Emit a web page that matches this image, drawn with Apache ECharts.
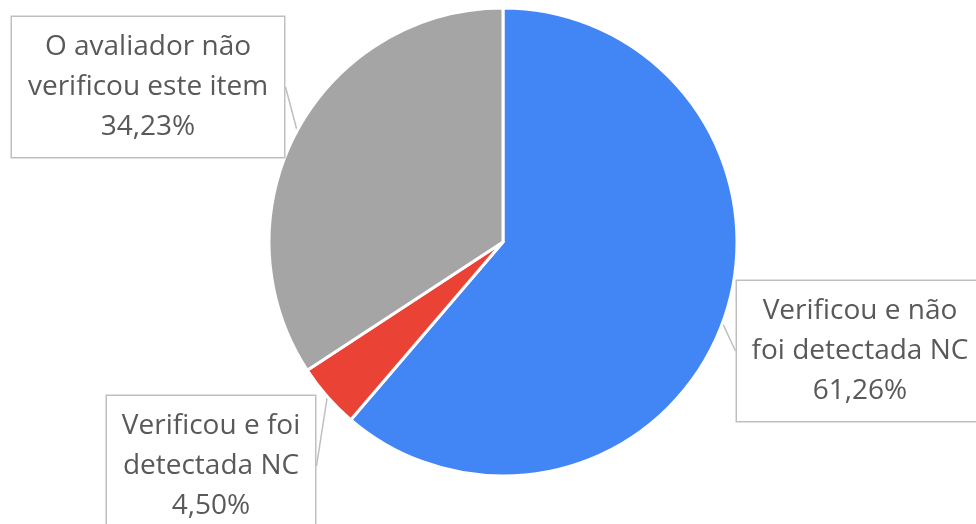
<!DOCTYPE html>
<html>
<head>
<meta charset="utf-8">
<script src="https://cdn.jsdelivr.net/npm/echarts@6/dist/echarts.min.js"></script>
<style>
  html, body { margin: 0; padding: 0; background: #fff; }
  #main { width: 976px; height: 524px; }
</style>
</head>
<body>
<div id="main"></div>
<script>
// categorias e valores (%)
var categories = ['Verificou e não\nfoi detectada NC', 'Verificou e foi\ndetectada NC', 'O avaliador não\nverificou este item'];
var values = [61.26, 4.50, 34.23];
var colors = ['#4285F4', '#EA4335', '#A5A5A5'];

// caixas dos rótulos: centro x, centro y, largura
var boxes = [
    [860, 351, 226],
    [211, 466, 188],
    [148, 87, 252]
];

var myChart = echarts.init(document.getElementById('main'));

var data = categories.map(function(name, i) {
    return {
        name: name,
        value: values[i],
        itemStyle: { color: colors[i] },
        label: { width: boxes[i][2] }
    };
});

var option = {
    animation: false,
    series: [{
        type: 'pie',
        center: [503, 242],
        radius: 234,
        startAngle: 90,
        clockwise: true,
        data: data,
        itemStyle: {
            borderColor: '#fff',
            borderWidth: 3
        },
        label: {
            show: true,
            formatter: function(p) {
                return p.name + '\n' + p.value.toFixed(2).replace('.', ',') + '%';
            },
            fontFamily: 'Open Sans',
            fontSize: 28,
            color: '#595959',
            lineHeight: 40,
            align: 'center',
            backgroundColor: '#fff',
            borderColor: '#BFBFBF',
            borderWidth: 1.5,
            padding: [13, 10, 7, 10]
        },
        labelLine: {
            show: true,
            length: 8,
            length2: 0,
            lineStyle: { color: '#BFBFBF', width: 1.5 }
        },
        labelLayout: function(params) {
            var b = boxes[params.dataIndex];
            return {
                x: b[0],
                y: b[1],
                align: 'center',
                verticalAlign: 'middle'
            };
        }
    }]
};

myChart.setOption(option);
</script>
</body>
</html>
